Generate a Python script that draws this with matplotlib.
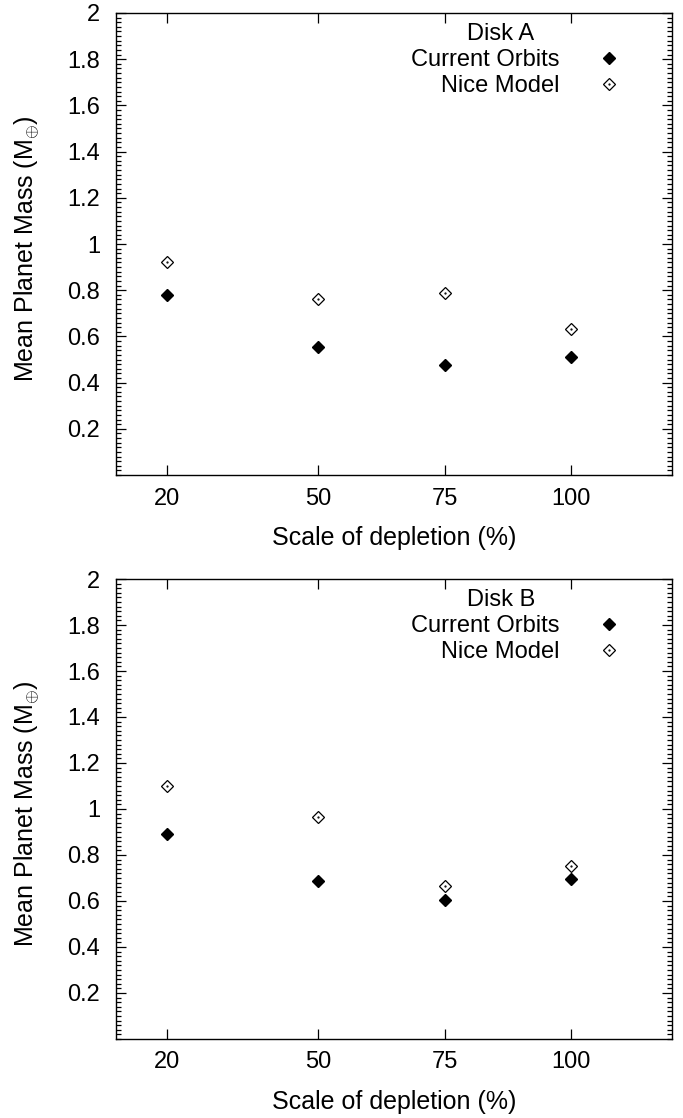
import matplotlib
matplotlib.use('Agg')
import matplotlib.pyplot as plt
from matplotlib.legend_handler import HandlerTuple
from matplotlib.ticker import FixedLocator, MultipleLocator, FuncFormatter

depletion = [20, 50, 75, 100]
yticks = [0.2, 0.4, 0.6, 0.8, 1.0, 1.2, 1.4, 1.6, 1.8, 2.0]

# Disk A
current_a = [0.78, 0.553, 0.478, 0.513]
nice_a = [0.92, 0.762, 0.787, 0.63]
# Disk B
current_b = [0.893, 0.687, 0.604, 0.697]
nice_b = [1.098, 0.966, 0.664, 0.753]

panels = [('Disk A', current_a, nice_a), ('Disk B', current_b, nice_b)]

plt.rcParams['font.family'] = ['Liberation Sans', 'DejaVu Sans']
plt.rcParams['font.size'] = 17
plt.rcParams['mathtext.fontset'] = 'custom'
plt.rcParams['mathtext.rm'] = 'Liberation Sans'
plt.rcParams['mathtext.it'] = 'Liberation Sans'

fig = plt.figure(figsize=(6.83, 11.18), dpi=100)
rects = [[0.1698, 0.5751, 0.8141, 0.4133], [0.1698, 0.0707, 0.8141, 0.4114]]

for rect, (title, cur, nice) in zip(rects, panels):
    ax = fig.add_axes(rect)
    h1, = ax.plot(depletion, cur, ls='none', marker='D', ms=6.2, color='black')
    h2, = ax.plot(depletion, nice, ls='none', marker='D', ms=6.2,
                  mfc='white', mec='black', mew=0.9)
    h3, = ax.plot(depletion, nice, ls='none', marker='.', ms=1.2, color='black')

    ax.set_xlim(10, 120)
    ax.set_ylim(0, 2)
    ax.xaxis.set_major_locator(FixedLocator(depletion))
    ax.yaxis.set_major_locator(FixedLocator(yticks))
    ax.yaxis.set_minor_locator(MultipleLocator(0.02))
    ax.yaxis.set_major_formatter(FuncFormatter(lambda v, p: '%g' % v))
    ax.tick_params(which='both', direction='in', top=True, right=True, width=0.9)
    ax.tick_params(which='major', length=7.5, labelsize=17)
    ax.tick_params(which='minor', length=3.5)
    ax.tick_params(axis='y', pad=11.5)
    ax.tick_params(axis='x', pad=9)
    for s in ax.spines.values():
        s.set_linewidth(1.0)

    ax.set_xlabel('Scale of depletion (%)', fontsize=18, va='center')
    ax.xaxis.set_label_coords(0.5, -0.136)
    ax.set_ylabel(r'Mean Planet Mass (M$_{\oplus}$)', fontsize=18, va='center')
    ax.yaxis.set_label_coords(-0.16, 0.49)

    leg = ax.legend([h1, (h2, h3)], ['Current Orbits', 'Nice Model'],
                    handler_map={tuple: HandlerTuple()},
                    loc='upper right', bbox_to_anchor=(0.908, 0.922),
                    markerfirst=False, alignment='right', frameon=False,
                    fontsize=17, handlelength=1.0, handletextpad=1.6,
                    labelspacing=0.17, borderpad=0, borderaxespad=0)
    ax.text(0.692, 0.955, title, transform=ax.transAxes, ha='center',
            va='center', fontsize=17)

fig.savefig('out.png', dpi=100)
